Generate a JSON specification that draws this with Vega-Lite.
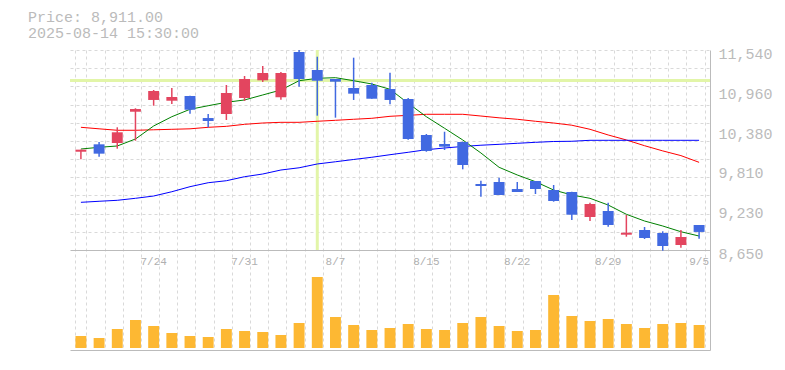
{
  "$schema": "https://vega.github.io/schema/vega-lite/v6.json",
  "width": 640,
  "height": 300,
  "autosize": {"type": "none"},
  "padding": {"left": 70, "top": 50, "right": 75, "bottom": 20},
  "background": "white",
  "config": {"view": {"stroke": null}, "font": "Liberation Mono"},
  "title": {
    "text": ["Price: 8,911.00", "2025-08-14 15:30:00"],
    "anchor": "start",
    "frame": "group",
    "font": "Liberation Mono",
    "fontSize": 15,
    "fontWeight": "normal",
    "color": "#bbbbbb",
    "lineHeight": 16,
    "dx": -42,
    "offset": 5
  },
  "data": {
    "values": [
      {"date": "2025-07-17", "open": 10070, "high": 10100, "low": 9960, "close": 10100, "volume": 120000, "ma5": 10109, "ma25": 10423, "ma75": 9339},
      {"date": "2025-07-18", "open": 10177, "high": 10210, "low": 9998, "close": 10042, "volume": 100000, "ma5": 10134, "ma25": 10401, "ma75": 9354},
      {"date": "2025-07-22", "open": 10196, "high": 10423, "low": 10114, "close": 10351, "volume": 190000, "ma5": 10153, "ma25": 10380, "ma75": 9368},
      {"date": "2025-07-23", "open": 10648, "high": 10698, "low": 10229, "close": 10687, "volume": 280000, "ma5": 10254, "ma25": 10380, "ma75": 9397},
      {"date": "2025-07-24", "open": 10818, "high": 10962, "low": 10735, "close": 10948, "volume": 220000, "ma5": 10442, "ma25": 10387, "ma75": 9430},
      {"date": "2025-07-25", "open": 10807, "high": 10991, "low": 10760, "close": 10861, "volume": 150000, "ma5": 10576, "ma25": 10394, "ma75": 9492},
      {"date": "2025-07-28", "open": 10875, "high": 10880, "low": 10620, "close": 10677, "volume": 120000, "ma5": 10683, "ma25": 10401, "ma75": 9565},
      {"date": "2025-07-29", "open": 10557, "high": 10615, "low": 10423, "close": 10514, "volume": 110000, "ma5": 10735, "ma25": 10423, "ma75": 9622},
      {"date": "2025-07-30", "open": 10615, "high": 11034, "low": 10529, "close": 10919, "volume": 190000, "ma5": 10784, "ma25": 10437, "ma75": 9651},
      {"date": "2025-07-31", "open": 10846, "high": 11164, "low": 10803, "close": 11121, "volume": 170000, "ma5": 10818, "ma25": 10466, "ma75": 9709},
      {"date": "2025-08-01", "open": 11102, "high": 11309, "low": 11078, "close": 11208, "volume": 160000, "ma5": 10890, "ma25": 10485, "ma75": 9748},
      {"date": "2025-08-04", "open": 10857, "high": 11222, "low": 10822, "close": 11208, "volume": 130000, "ma5": 10962, "ma25": 10495, "ma75": 9806},
      {"date": "2025-08-05", "open": 11511, "high": 11540, "low": 11010, "close": 11121, "volume": 250000, "ma5": 11096, "ma25": 10495, "ma75": 9838},
      {"date": "2025-08-06", "open": 11251, "high": 11443, "low": 10591, "close": 11096, "volume": 710000, "ma5": 11131, "ma25": 10510, "ma75": 9893},
      {"date": "2025-08-07", "open": 11121, "high": 11121, "low": 10562, "close": 11082, "volume": 310000, "ma5": 11140, "ma25": 10524, "ma75": 9925},
      {"date": "2025-08-08", "open": 10991, "high": 11429, "low": 10818, "close": 10909, "volume": 230000, "ma5": 11096, "ma25": 10539, "ma75": 9958},
      {"date": "2025-08-12", "open": 11034, "high": 11068, "low": 10836, "close": 10836, "volume": 180000, "ma5": 11049, "ma25": 10553, "ma75": 9990},
      {"date": "2025-08-13", "open": 10976, "high": 11212, "low": 10755, "close": 10818, "volume": 200000, "ma5": 10972, "ma25": 10582, "ma75": 10027},
      {"date": "2025-08-14", "open": 10832, "high": 10846, "low": 10244, "close": 10254, "volume": 240000, "ma5": 10770, "ma25": 10596, "ma75": 10062},
      {"date": "2025-08-15", "open": 10312, "high": 10326, "low": 10070, "close": 10081, "volume": 190000, "ma5": 10576, "ma25": 10611, "ma75": 10099},
      {"date": "2025-08-18", "open": 10182, "high": 10359, "low": 10095, "close": 10143, "volume": 180000, "ma5": 10409, "ma25": 10611, "ma75": 10124},
      {"date": "2025-08-19", "open": 10211, "high": 10215, "low": 9816, "close": 9878, "volume": 250000, "ma5": 10240, "ma25": 10611, "ma75": 10146},
      {"date": "2025-08-20", "open": 9604, "high": 9651, "low": 9420, "close": 9575, "volume": 310000, "ma5": 10052, "ma25": 10586, "ma75": 10164},
      {"date": "2025-08-21", "open": 9633, "high": 9695, "low": 9445, "close": 9445, "volume": 220000, "ma5": 9845, "ma25": 10560, "ma75": 10177},
      {"date": "2025-08-22", "open": 9531, "high": 9633, "low": 9488, "close": 9488, "volume": 170000, "ma5": 9734, "ma25": 10539, "ma75": 10192},
      {"date": "2025-08-25", "open": 9647, "high": 9647, "low": 9459, "close": 9531, "volume": 180000, "ma5": 9637, "ma25": 10510, "ma75": 10206},
      {"date": "2025-08-26", "open": 9517, "high": 9589, "low": 9348, "close": 9358, "volume": 530000, "ma5": 9517, "ma25": 10485, "ma75": 10218},
      {"date": "2025-08-27", "open": 9488, "high": 9490, "low": 9084, "close": 9160, "volume": 320000, "ma5": 9445, "ma25": 10453, "ma75": 10221},
      {"date": "2025-08-28", "open": 9127, "high": 9334, "low": 9069, "close": 9315, "volume": 270000, "ma5": 9397, "ma25": 10394, "ma75": 10235},
      {"date": "2025-08-29", "open": 9214, "high": 9334, "low": 8987, "close": 9011, "volume": 290000, "ma5": 9300, "ma25": 10312, "ma75": 10235},
      {"date": "2025-09-01", "open": 8871, "high": 9156, "low": 8842, "close": 8900, "volume": 240000, "ma5": 9166, "ma25": 10240, "ma75": 10235},
      {"date": "2025-09-02", "open": 8939, "high": 8982, "low": 8809, "close": 8823, "volume": 200000, "ma5": 9069, "ma25": 10157, "ma75": 10235},
      {"date": "2025-09-03", "open": 8896, "high": 8920, "low": 8640, "close": 8708, "volume": 240000, "ma5": 8997, "ma25": 10082, "ma75": 10235},
      {"date": "2025-09-04", "open": 8722, "high": 8939, "low": 8683, "close": 8838, "volume": 250000, "ma5": 8914, "ma25": 10014, "ma75": 10235},
      {"date": "2025-09-05", "open": 9011, "high": 9011, "low": 8813, "close": 8911, "volume": 230000, "ma5": 8852, "ma25": 9917, "ma75": 10235}
    ]
  },
  "layer": [
    {
      "layer": [
        {
          "data": {"values": [{}]},
          "mark": {"type": "rule", "color": "#e2f5a8", "strokeWidth": 3},
          "encoding": {
            "y": {"datum": 11100, "type": "quantitative", "scale": {"domain": [7205, 11540], "nice": false, "zero": false}, "axis": null}
          }
        },
        {
          "data": {"values": [{}]},
          "mark": {"type": "rule", "color": "#e2f5a8", "strokeWidth": 3},
          "encoding": {
            "x": {"datum": "2025-08-06", "type": "ordinal", "scale": {"type": "band", "paddingInner": 0.4, "paddingOuter": 0.3}, "axis": null},
            "y": {"datum": 11540, "type": "quantitative", "axis": null},
            "y2": {"datum": 8650}
          }
        },
        {
          "mark": {"type": "line", "color": "#ff0000", "strokeWidth": 1},
          "encoding": {
            "x": {"field": "date", "type": "ordinal", "axis": null},
            "y": {"field": "ma25", "type": "quantitative", "axis": null}
          }
        },
        {
          "mark": {"type": "line", "color": "#0000ff", "strokeWidth": 1},
          "encoding": {
            "x": {"field": "date", "type": "ordinal", "axis": null},
            "y": {"field": "ma75", "type": "quantitative", "axis": null}
          }
        },
        {
          "mark": {"type": "line", "color": "#008000", "strokeWidth": 1},
          "encoding": {
            "x": {"field": "date", "type": "ordinal", "axis": null},
            "y": {"field": "ma5", "type": "quantitative", "axis": null}
          }
        },
        {
          "mark": {"type": "rule", "strokeWidth": 1.5},
          "encoding": {
            "x": {"field": "date", "type": "ordinal", "axis": null},
            "y": {
              "field": "low",
              "type": "quantitative",
              "axis": {
                "orient": "left",
                "values": [8912.73, 9175.45, 9438.18, 9700.91, 9963.64, 10226.36, 10489.09, 10751.82, 11014.55, 11277.27, 11540],
                "grid": true,
                "gridColor": "#d9d9d9",
                "gridDash": [3, 3],
                "labels": false,
                "ticks": false,
                "domain": false,
                "title": null
              }
            },
            "y2": {"field": "high"},
            "color": {"condition": {"test": "datum.close >= datum.open", "value": "#e3455f"}, "value": "#4169e1"}
          }
        },
        {
          "mark": {"type": "bar"},
          "encoding": {
            "x": {
              "field": "date",
              "type": "ordinal",
              "axis": {
                "orient": "bottom",
                "offset": -100,
                "values": ["2025-07-24", "2025-07-31", "2025-08-07", "2025-08-15", "2025-08-22", "2025-08-29", "2025-09-05"],
                "labelExpr": "toNumber(split(datum.value, '-')[1]) + '/' + toNumber(split(datum.value, '-')[2])",
                "labelAngle": 0,
                "labelFont": "Liberation Mono",
                "labelFontSize": 11,
                "labelColor": "#b0b0b0",
                "labelPadding": 5,
                "labelFlush": false,
                "ticks": false,
                "grid": false,
                "domain": true,
                "domainColor": "#bbbbbb",
                "title": null
              }
            },
            "y": {
              "field": "open",
              "type": "quantitative",
              "axis": {
                "orient": "right",
                "values": [8650, 9230, 9810, 10380, 10960, 11540],
                "format": ",.0f",
                "grid": false,
                "ticks": false,
                "domain": true,
                "domainColor": "#bbbbbb",
                "labelFont": "Liberation Mono",
                "labelFontSize": 15,
                "labelColor": "#bbbbbb",
                "labelPadding": 8,
                "labelFlush": false,
                "labelOverlap": false,
                "labelOffset": 3,
                "labelBaseline": "middle",
                "labelAlign": "left",
                "title": null
              }
            },
            "y2": {"field": "close"},
            "color": {"condition": {"test": "datum.close >= datum.open", "value": "#e3455f"}, "value": "#4169e1"}
          }
        }
      ],
      "resolve": {"axis": {"x": "independent", "y": "independent"}}
    },
    {
      "mark": {"type": "bar", "color": "#fdb833"},
      "encoding": {
        "x": {
          "field": "date",
          "type": "ordinal",
          "scale": {"type": "band", "paddingInner": 0.4, "paddingOuter": 0.3},
          "axis": {
            "orient": "bottom",
            "tickBand": "extent",
            "grid": true,
            "gridColor": "#d9d9d9",
            "gridDash": [3, 3],
            "labels": false,
            "ticks": false,
            "domain": true,
            "domainColor": "#bbbbbb",
            "title": null
          }
        },
        "y": {
          "field": "volume",
          "type": "quantitative",
          "scale": {"domain": [-20000, 2980000], "nice": false, "zero": false},
          "axis": null
        }
      }
    }
  ],
  "resolve": {"scale": {"y": "independent"}, "axis": {"x": "independent", "y": "independent"}}
}
